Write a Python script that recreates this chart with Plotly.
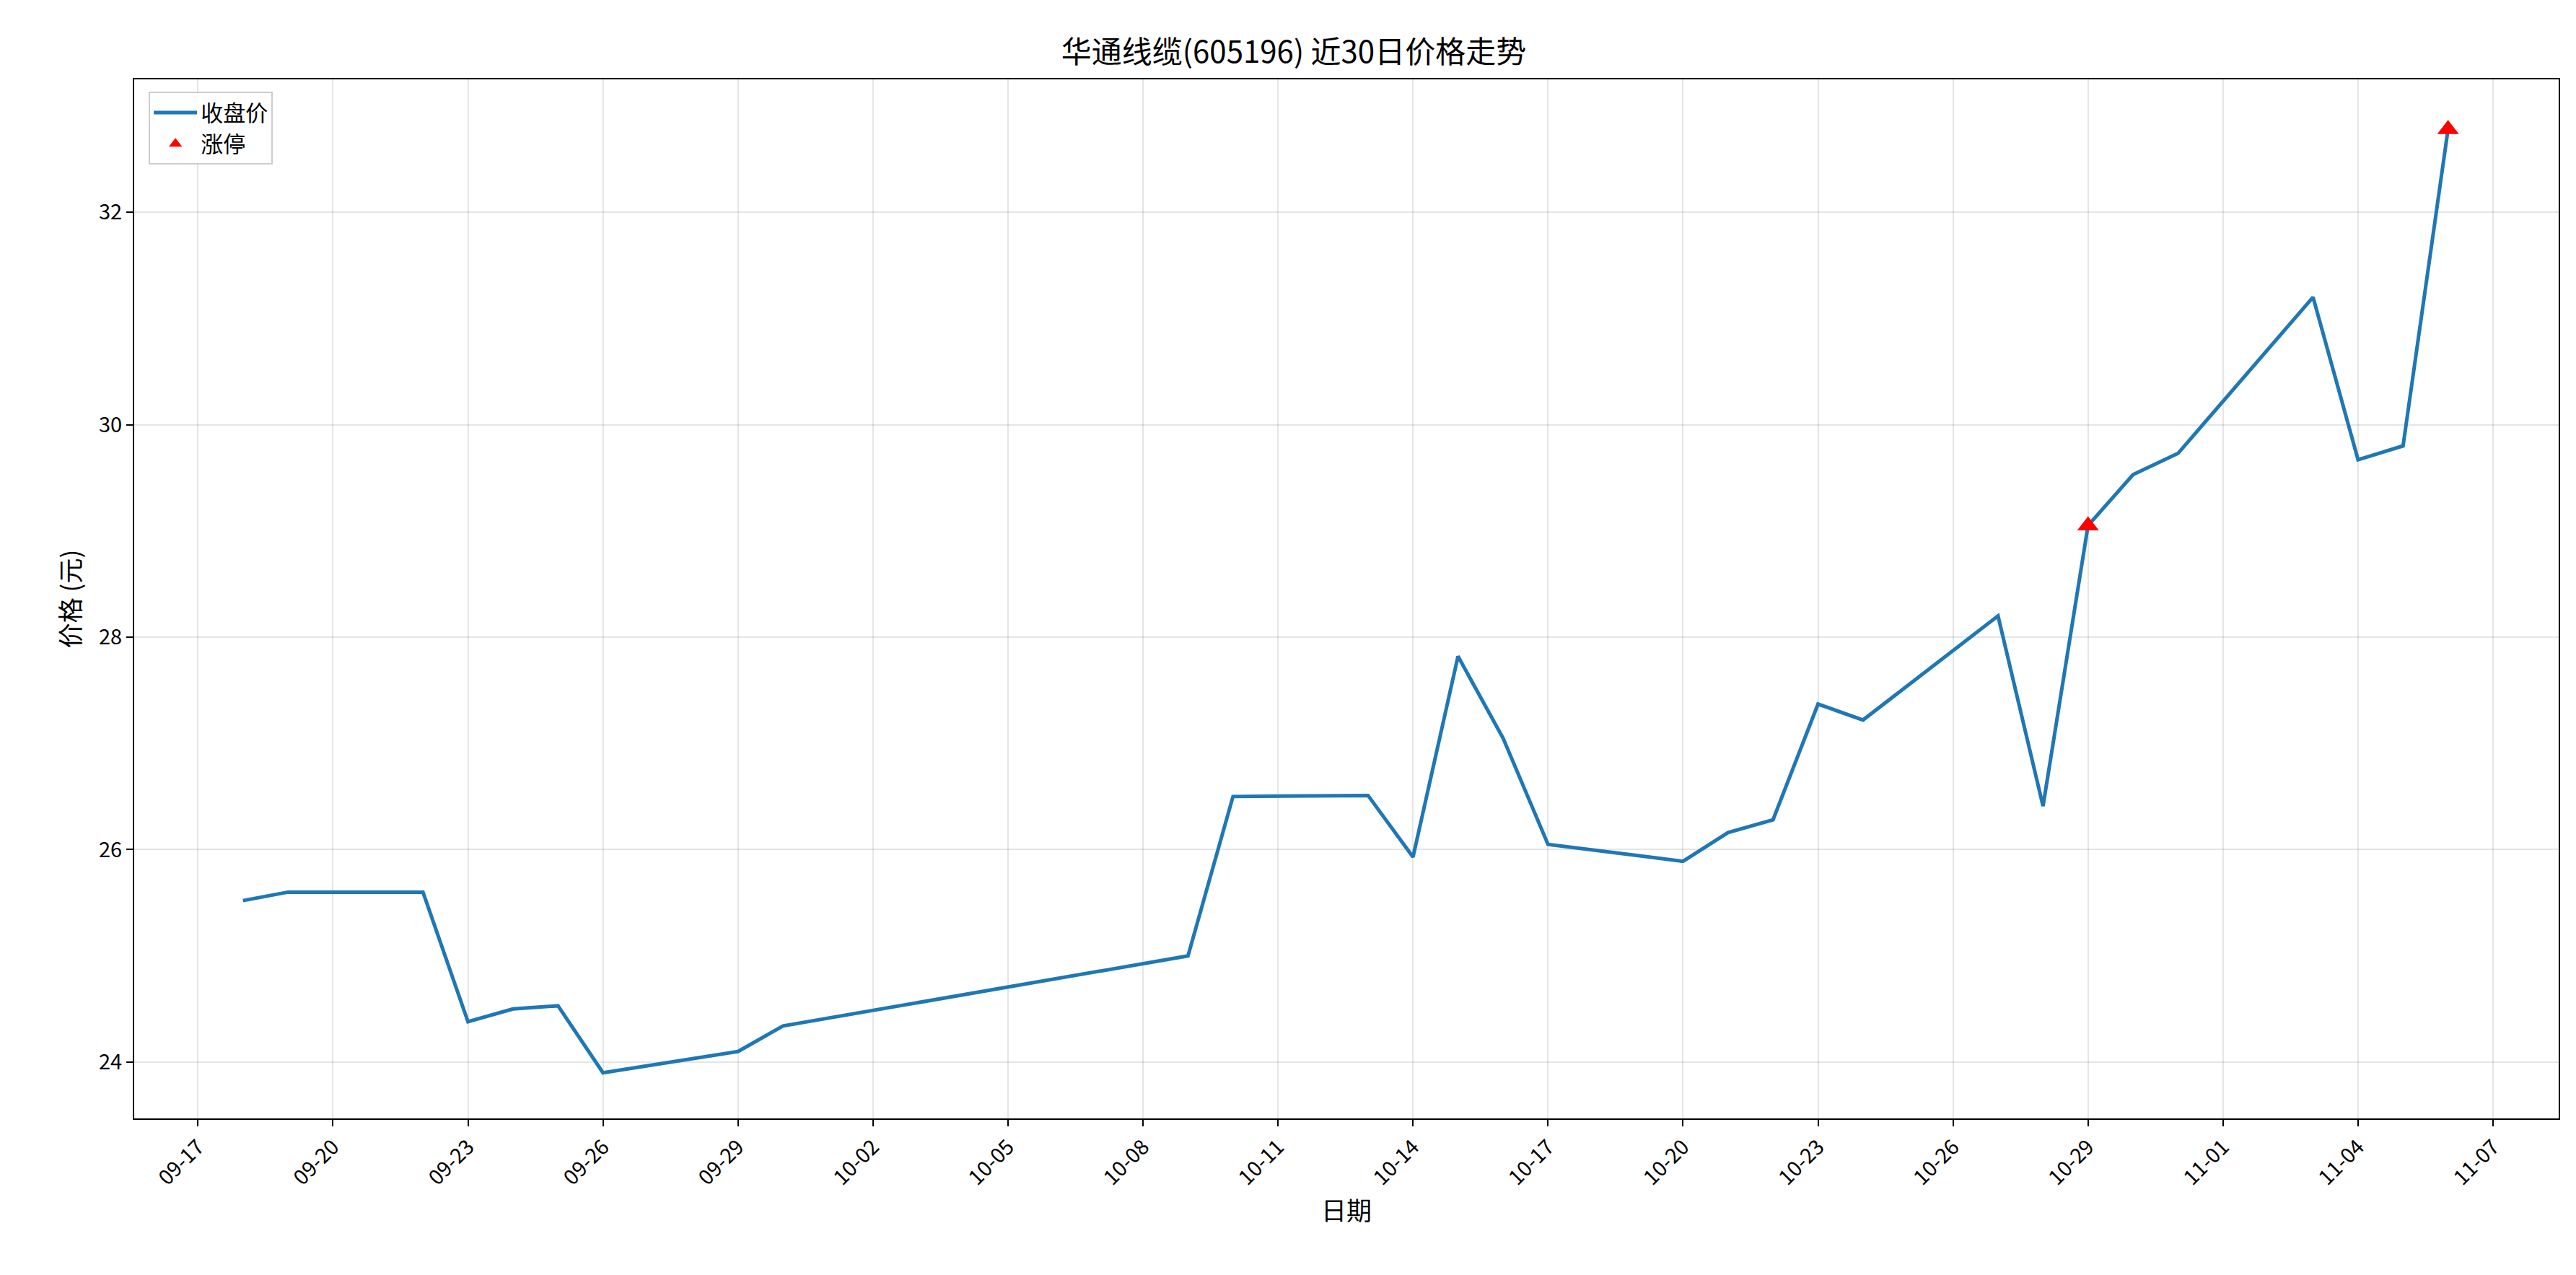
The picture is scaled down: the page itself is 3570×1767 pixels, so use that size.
import plotly.graph_objects as go
import pandas as pd

# closing prices, 华通线缆(605196)
dates = ["2025-09-18", "2025-09-19", "2025-09-22", "2025-09-23", "2025-09-24", "2025-09-25",
         "2025-09-26", "2025-09-29", "2025-09-30", "2025-10-09", "2025-10-10", "2025-10-13",
         "2025-10-14", "2025-10-15", "2025-10-16", "2025-10-17", "2025-10-20", "2025-10-21",
         "2025-10-22", "2025-10-23", "2025-10-24", "2025-10-27", "2025-10-28", "2025-10-29",
         "2025-10-30", "2025-10-31", "2025-11-03", "2025-11-04", "2025-11-05", "2025-11-06"]
close = [25.52, 25.60, 25.60, 24.38, 24.50, 24.53,
         23.90, 24.10, 24.34, 25.00, 26.50, 26.51,
         25.93, 27.82, 27.05, 26.05, 25.89, 26.16,
         26.28, 27.37, 27.22, 28.20, 26.41, 29.05,
         29.53, 29.73, 31.20, 29.67, 29.80, 32.78]
limit_dates = ["2025-10-29", "2025-11-06"]
limit_close = [29.05, 32.78]

tick_dates = pd.date_range("2025-09-17", "2025-11-07", freq="3D")
tick_labels = [d.strftime("%m-%d") for d in tick_dates]

font = "Noto Sans CJK SC, Liberation Sans, sans-serif"

fig = go.Figure()
fig.add_trace(go.Scatter(x=pd.to_datetime(dates), y=close, mode="lines", name="收盘价",
                         line=dict(color="#1f77b4", width=5)))
fig.add_trace(go.Scatter(x=pd.to_datetime(limit_dates), y=limit_close, mode="markers", name="涨停",
                         marker=dict(color="red", symbol="triangle-up", size=26)))

axis_common = dict(showline=True, linecolor="black", linewidth=2, mirror=True,
                   ticks="outside", ticklen=9, tickwidth=2, tickcolor="black",
                   showgrid=True, gridcolor="rgba(0,0,0,0.1)", gridwidth=2,
                   zeroline=False, tickfont=dict(size=29, color="black"))

fig.update_layout(
    width=3570, height=1767,
    paper_bgcolor="white", plot_bgcolor="white",
    font=dict(family=font, color="black"),
    title=dict(text="华通线缆(605196) 近30日价格走势", x=0.5, xanchor="center",
               y=0.972, font=dict(size=42)),
    margin=dict(l=178, r=32, t=102, b=225),
    legend=dict(x=0.006, y=0.988, xanchor="left", yanchor="top", bgcolor="white",
                bordercolor="#cccccc", borderwidth=2, font=dict(size=31),
                itemwidth=60, tracegroupgap=8),
)
fig.update_xaxes(**axis_common, tickvals=tick_dates, ticktext=tick_labels, tickangle=-45,
                 range=["2025-09-15 14:00", "2025-11-08 11:00"],
                 title=dict(text="日期", font=dict(size=35)))
fig.update_yaxes(**axis_common, range=[23.47, 33.25], dtick=2,
                 title=dict(text="价格 (元)", font=dict(size=35)))

fig.write_html("out.html")
